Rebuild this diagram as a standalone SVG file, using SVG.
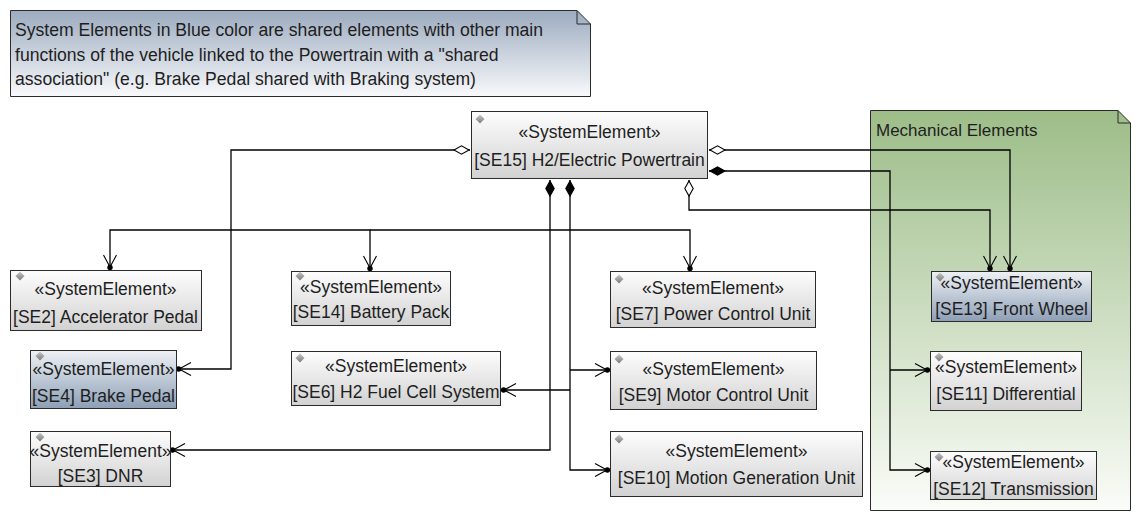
<svg xmlns="http://www.w3.org/2000/svg" width="1141" height="525" viewBox="0 0 1141 525">
<style>
text{font-family:"Liberation Sans",Arial,sans-serif;fill:#1e1e1e}
.t{font-size:17.5px;text-anchor:middle}
.nt{font-size:17.6px}
.pt{font-size:17px}
.box{fill:url(#gGray);stroke:#2b2b2b;stroke-width:1}
.blue{fill:url(#gBlue)}
.ic{fill:url(#gIcon)}
.c{fill:none;stroke:#000;stroke-width:1.3}
</style>
<defs>
<linearGradient id="gGray" x1="0" y1="0" x2="0" y2="1"><stop offset="0" stop-color="#fdfdfd"/><stop offset="1" stop-color="#d2d2d2"/></linearGradient>
<linearGradient id="gBlue" x1="0" y1="0" x2="0" y2="1"><stop offset="0" stop-color="#eef1f5"/><stop offset="1" stop-color="#8d9fb6"/></linearGradient>
<linearGradient id="gNote" x1="0" y1="0" x2="0" y2="1"><stop offset="0" stop-color="#9cabbf"/><stop offset="1" stop-color="#f8f9fb"/></linearGradient>
<linearGradient id="gPkg" x1="0" y1="0" x2="0" y2="1"><stop offset="0" stop-color="#9dbd88"/><stop offset="1" stop-color="#fafcf8"/></linearGradient>
<linearGradient id="gIcon" x1="0" y1="0" x2="0" y2="1"><stop offset="0" stop-color="#c8c8c8"/><stop offset="1" stop-color="#7a7a7a"/></linearGradient>
<marker id="dO" viewBox="-1 -6 19 12" refX="0" refY="0" markerWidth="19" markerHeight="12" markerUnits="userSpaceOnUse" orient="auto"><path d="M1,0 L8.5,-4.2 L16,0 L8.5,4.2 Z" fill="#fff" stroke="#000" stroke-width="1.1"/></marker>
<marker id="dF" viewBox="-1 -6 19 12" refX="0" refY="0" markerWidth="19" markerHeight="12" markerUnits="userSpaceOnUse" orient="auto"><path d="M1,0 L8.5,-4.2 L16,0 L8.5,4.2 Z" fill="#000" stroke="#000" stroke-width="1.1"/></marker>
<marker id="ar" viewBox="-17 -8 18 16" refX="0" refY="0" markerWidth="18" markerHeight="16" markerUnits="userSpaceOnUse" orient="auto"><path d="M-15,-6.5 L-3,0 L-15,6.5" fill="none" stroke="#000" stroke-width="1.1"/><circle cx="-2.6" cy="0" r="2.7" fill="#000"/></marker>
</defs>
<rect width="1141" height="525" fill="#fff"/>

<g id="note">
<path d="M10.5,10.5 H577 L590.5,24 V96.5 H10.5 Z" fill="url(#gNote)" stroke="#2b2b2b"/>
<path d="M577,10.5 V24 H590.5" fill="none" stroke="#2b2b2b"/>
<text class="nt" x="15" y="36">System Elements in Blue color are shared elements with other main</text>
<text class="nt" x="15" y="61">functions of the vehicle linked to the Powertrain with a "shared</text>
<text class="nt" x="15" y="85">association" (e.g. Brake Pedal shared with Braking system)</text>
</g>

<g id="pkg-mechanical">
<path d="M870.5,110.5 H1118 L1130.5,123 V510.5 H870.5 Z" fill="url(#gPkg)" stroke="#2b2b2b"/>
<path d="M1118,110.5 V123 H1130.5" fill="none" stroke="#2b2b2b"/>
<text class="pt" x="876" y="136">Mechanical Elements</text>
</g>

<g id="connectors">
<path class="c" d="M470,150 H231 V369 H176" marker-start="url(#dO)" marker-end="url(#ar)"/>
<path class="c" d="M231,230 H110 V270" marker-end="url(#ar)"/>
<path class="c" d="M231,230 H370 V271" marker-end="url(#ar)"/>
<path class="c" d="M370,230 H690 V271" marker-end="url(#ar)"/>
<path class="c" d="M550,180 V450 H170" marker-start="url(#dF)" marker-end="url(#ar)"/>
<path class="c" d="M570,180 V470 H610" marker-start="url(#dF)" marker-end="url(#ar)"/>
<path class="c" d="M570,370 H610" marker-end="url(#ar)"/>
<path class="c" d="M570,390 H501" marker-end="url(#ar)"/>
<path class="c" d="M709,150 H1010 V271" marker-start="url(#dO)" marker-end="url(#ar)"/>
<path class="c" d="M709,171 H890 V470 H930" marker-start="url(#dF)" marker-end="url(#ar)"/>
<path class="c" d="M890,370 H930" marker-end="url(#ar)"/>
<path class="c" d="M689,180 V210 H990 V271" marker-start="url(#dO)" marker-end="url(#ar)"/>
</g>

<g id="SE15">
<rect class="box" x="471.5" y="111.5" width="236" height="67"/>
<path class="ic" d="M480,114.5 L484.5,119 L480,123.5 L475.5,119 Z"/>
<text class="t" x="589.5" y="138">«SystemElement»</text>
<text class="t" x="589.5" y="166">[SE15] H2/Electric Powertrain</text>
</g>

<g id="SE2">
<rect class="box" x="10.5" y="270.5" width="191" height="60"/>
<path class="ic" d="M20,271.5 L24.5,276 L20,280.5 L15.5,276 Z"/>
<text class="t" x="105.5" y="295">«SystemElement»</text>
<text class="t" x="105.5" y="323">[SE2] Accelerator Pedal</text>
</g>

<g id="SE4">
<rect class="box blue" x="30.5" y="350.5" width="146" height="58"/>
<path class="ic" d="M40,351.5 L44.5,356 L40,360.5 L35.5,356 Z"/>
<text class="t" x="103.5" y="375">«SystemElement»</text>
<text class="t" x="103.5" y="402">[SE4] Brake Pedal</text>
</g>

<g id="SE3">
<rect class="box" x="30.5" y="431.5" width="140" height="55"/>
<path class="ic" d="M40,432.5 L44.5,437 L40,441.5 L35.5,437 Z"/>
<text class="t" x="100.5" y="457">«SystemElement»</text>
<text class="t" x="100.5" y="482">[SE3] DNR</text>
</g>

<g id="SE14">
<rect class="box" x="291.5" y="271.5" width="159" height="54"/>
<path class="ic" d="M300,271.5 L304.5,276 L300,280.5 L295.5,276 Z"/>
<text class="t" x="371" y="293">«SystemElement»</text>
<text class="t" x="371" y="318">[SE14] Battery Pack</text>
</g>

<g id="SE6">
<rect class="box" x="291.5" y="351.5" width="209" height="54"/>
<path class="ic" d="M300,353.5 L304.5,358 L300,362.5 L295.5,358 Z"/>
<text class="t" x="396" y="372">«SystemElement»</text>
<text class="t" x="396" y="398">[SE6] H2 Fuel Cell System</text>
</g>

<g id="SE7">
<rect class="box" x="610.5" y="271.5" width="205" height="56"/>
<path class="ic" d="M619,274.5 L623.5,279 L619,283.5 L614.5,279 Z"/>
<text class="t" x="713" y="294">«SystemElement»</text>
<text class="t" x="713" y="320">[SE7] Power Control Unit</text>
</g>

<g id="SE9">
<rect class="box" x="610.5" y="351.5" width="206" height="58"/>
<path class="ic" d="M619,354.5 L623.5,359 L619,363.5 L614.5,359 Z"/>
<text class="t" x="713.5" y="375">«SystemElement»</text>
<text class="t" x="713.5" y="401">[SE9] Motor Control Unit</text>
</g>

<g id="SE10">
<rect class="box" x="610.5" y="431.5" width="252" height="65"/>
<path class="ic" d="M619,434.5 L623.5,439 L619,443.5 L614.5,439 Z"/>
<text class="t" x="736.5" y="457">«SystemElement»</text>
<text class="t" x="736.5" y="484">[SE10] Motion Generation Unit</text>
</g>

<g id="SE13">
<rect class="box blue" x="931.5" y="271.5" width="160" height="50"/>
<path class="ic" d="M940,272.5 L944.5,277 L940,281.5 L935.5,277 Z"/>
<text class="t" x="1011.5" y="289">«SystemElement»</text>
<text class="t" x="1011.5" y="315">[SE13] Front Wheel</text>
</g>

<g id="SE11">
<rect class="box" x="930.5" y="351.5" width="151" height="59"/>
<path class="ic" d="M939,352.5 L943.5,357 L939,361.5 L934.5,357 Z"/>
<text class="t" x="1006" y="373">«SystemElement»</text>
<text class="t" x="1006" y="400">[SE11] Differential</text>
</g>

<g id="SE12">
<rect class="box" x="930.5" y="451.5" width="166" height="48"/>
<path class="ic" d="M939,452.5 L943.5,457 L939,461.5 L934.5,457 Z"/>
<text class="t" x="1013.5" y="468">«SystemElement»</text>
<text class="t" x="1013.5" y="495">[SE12] Transmission</text>
</g>
</svg>
